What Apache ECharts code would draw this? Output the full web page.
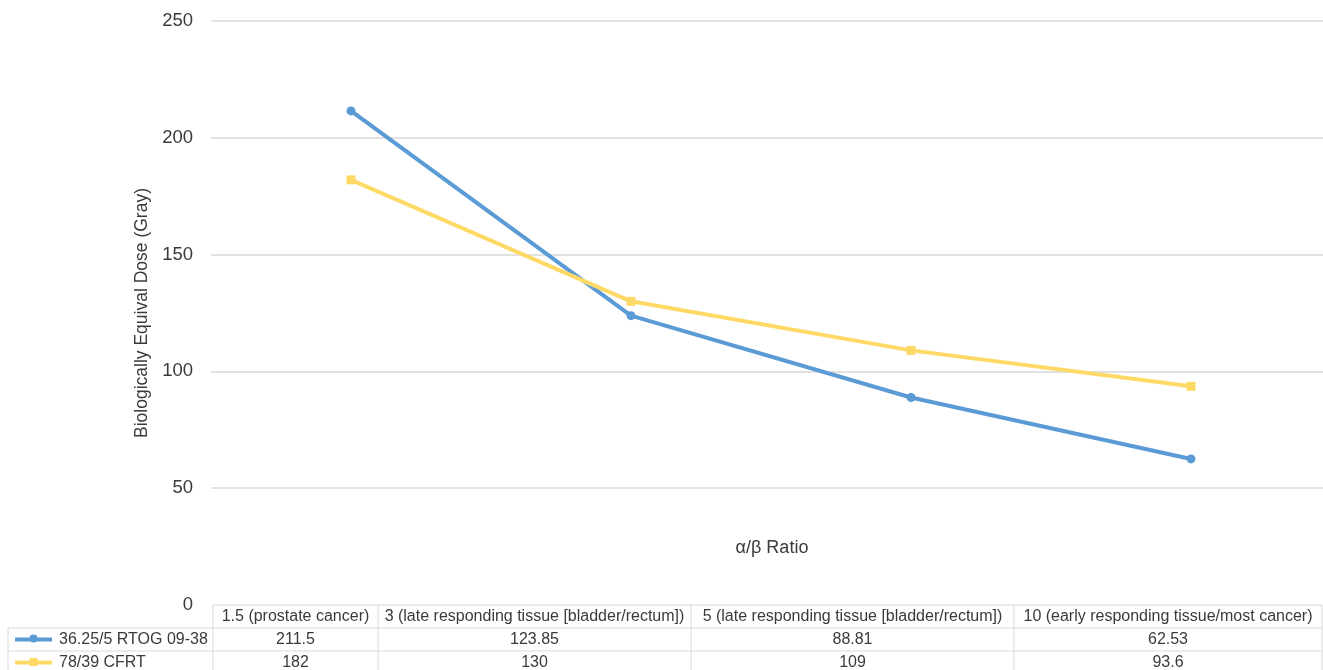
<!DOCTYPE html>
<html>
<head>
<meta charset="utf-8">
<script src="https://cdn.jsdelivr.net/npm/echarts@6/dist/echarts.min.js"></script>
<style>html,body{margin:0;padding:0;background:#fff}#c{width:1323px;height:670px}</style>
</head>
<body>
<div id="c"></div>
<script>
// ---- data ----
const categories = [
  "1.5 (prostate cancer)",
  "3 (late responding tissue [bladder/rectum])",
  "5 (late responding tissue [bladder/rectum])",
  "10 (early responding tissue/most cancer)"
];
const seriesNames = ["36.25/5 RTOG 09-38", "78/39 CFRT"];
const rtogValues = [211.5, 123.85, 88.81, 62.53];
const cfrtValues = [182, 130, 109, 93.6];
const yTicks = [0, 50, 100, 150, 200, 250];
const xTitle = "α/β Ratio";
const yTitle = "Biologically Equival Dose (Gray)";

// ---- layout/style ----
const FONT = "'Liberation Sans', Arial, Helvetica, sans-serif";
const TXT = "#3a3a3a";
const BORDER = "#d9d9d9";
const colors = ["#5b9bd5", "#ffd966"];
const symbols = ["circle", "rect"];
const colEdges = [213, 378, 691, 1014, 1322];
const rowEdges = [605, 628, 651, 674];
const leftEdge = 8;
const TABLE_FONT = '16px ' + FONT;

const chart = echarts.init(document.getElementById('c'), null, {renderer: 'canvas'});

const g = [];
// table lines
g.push({type:'line', shape:{x1:colEdges[0], y1:rowEdges[0], x2:colEdges[4], y2:rowEdges[0]}, style:{stroke:BORDER, lineWidth:1}});
for (let r = 1; r < rowEdges.length; r++) {
  g.push({type:'line', shape:{x1:leftEdge, y1:rowEdges[r], x2:colEdges[4], y2:rowEdges[r]}, style:{stroke:BORDER, lineWidth:1}});
}
g.push({type:'line', shape:{x1:leftEdge, y1:rowEdges[1], x2:leftEdge, y2:rowEdges[3]}, style:{stroke:BORDER, lineWidth:1}});
colEdges.forEach(x => {
  g.push({type:'line', shape:{x1:x, y1:rowEdges[0], x2:x, y2:rowEdges[3]}, style:{stroke:BORDER, lineWidth:1}});
});
// header texts
categories.forEach((c, i) => {
  g.push({type:'text', x:(colEdges[i]+colEdges[i+1])/2, y:(rowEdges[0]+rowEdges[1])/2,
    style:{text:c, fill:TXT, font:TABLE_FONT, textAlign:'center', textVerticalAlign:'middle'}});
});
// rows
const rows = [rtogValues, cfrtValues];
rows.forEach((vals, r) => {
  const cy = (rowEdges[r+1]+rowEdges[r+2])/2;
  g.push({type:'line', shape:{x1:15, y1:cy, x2:52, y2:cy}, style:{stroke:colors[r], lineWidth:4}});
  if (symbols[r] === 'circle') {
    g.push({type:'circle', shape:{cx:33.5, cy:cy-1, r:4}, style:{fill:colors[r]}});
  } else {
    g.push({type:'rect', shape:{x:29.5, y:cy-4.5, width:8, height:8}, style:{fill:colors[r]}});
  }
  g.push({type:'text', x:59, y:cy, style:{text:seriesNames[r], fill:TXT, font:TABLE_FONT, textAlign:'left', textVerticalAlign:'middle'}});
  vals.forEach((v, i) => {
    g.push({type:'text', x:(colEdges[i]+colEdges[i+1])/2, y:cy,
      style:{text:String(v), fill:TXT, font:TABLE_FONT, textAlign:'center', textVerticalAlign:'middle'}});
  });
});
// x title
g.push({type:'text', x:772, y:548, style:{text:xTitle, fill:TXT, font:'18px ' + FONT, textAlign:'center', textVerticalAlign:'middle'}});

const mkSeries = (name, data, i) => ({
  name, type:'line', data,
  symbol: symbols[i], symbolSize: 9,
  lineStyle:{color:colors[i], width:4},
  itemStyle:{color:colors[i]}
});

chart.setOption({
  animation:false,
  backgroundColor:'#fff',
  textStyle:{fontFamily:FONT},
  grid:{left:211, width:1120, top:21, bottom:65, containLabel:false, outerBoundsMode:'none'},
  xAxis:{type:'category', data:categories, boundaryGap:true,
    axisLine:{show:false}, axisTick:{show:false}, axisLabel:{show:false}, splitLine:{show:false}},
  yAxis:{type:'value', min:yTicks[0], max:yTicks[yTicks.length-1], interval:50,
    name:yTitle, nameLocation:'middle', nameGap:58, nameRotate:90,
    nameTextStyle:{color:TXT, fontSize:17.5, fontFamily:FONT},
    axisLine:{show:false}, axisTick:{show:false},
    axisLabel:{color:TXT, fontSize:18.5, fontFamily:FONT, margin:18,
      formatter: v => yTicks.includes(v) ? String(v) : ''},
    splitLine:{show:true, lineStyle:{color:BORDER, width:1.5},
      showMinLine:false}},
  series:[mkSeries(seriesNames[0], rtogValues, 0), mkSeries(seriesNames[1], cfrtValues, 1)],
  graphic:g
});
</script>
</body>
</html>
